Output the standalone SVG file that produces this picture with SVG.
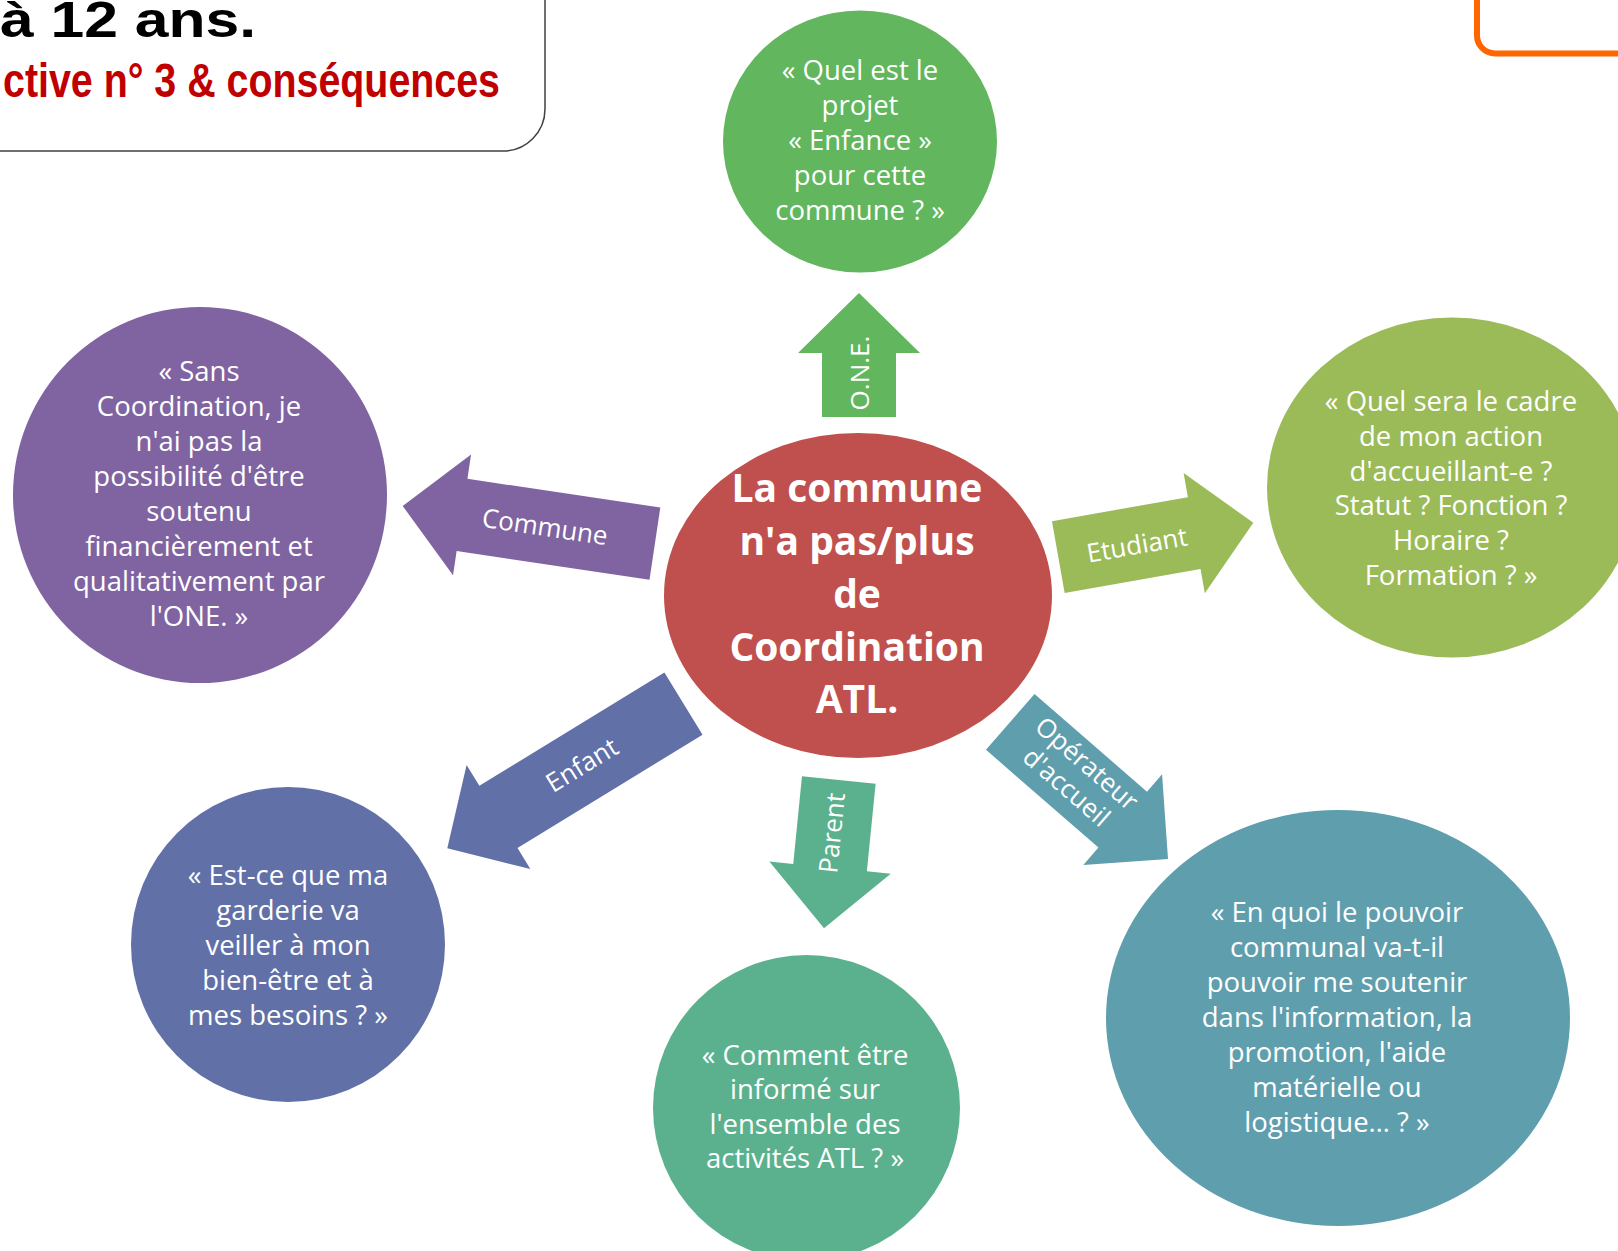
<svg xmlns="http://www.w3.org/2000/svg" width="1618" height="1251" viewBox="0 0 1618 1251">
<style>
.bt{font-family:"Open Sans","Liberation Sans",sans-serif;font-size:27.5px;fill:#ffffff;text-anchor:middle}
.al{font-family:"Open Sans","Liberation Sans",sans-serif;font-size:26px;fill:#ffffff;text-anchor:middle}
.ct{font-family:"Open Sans","Liberation Sans",sans-serif;font-size:39px;font-weight:bold;fill:#ffffff;text-anchor:middle}
</style>
<rect width="1618" height="1251" fill="#ffffff"/>
<g id="header">
<path d="M -3 -3 H 545 V 109 A 42 42 0 0 1 503 151 H -3" fill="#ffffff" stroke="#404040" stroke-width="1.5"/>
<text x="0" y="37" font-family="'Liberation Sans',Arial,sans-serif" font-weight="bold" font-size="50" fill="#000000" textLength="256" lengthAdjust="spacingAndGlyphs">à 12 ans.</text>
<text x="3" y="97" font-family="'Liberation Sans',Arial,sans-serif" font-weight="bold" font-size="48" fill="#c00000" textLength="497" lengthAdjust="spacingAndGlyphs">ctive n° 3 &amp; conséquences</text>
</g>
<g id="orange-box">
<rect x="1477" y="-40" width="200" height="93.5" rx="18" fill="none" stroke="#ff6600" stroke-width="6"/>
</g>
<g id="connectors">
<polygon points="0,0 -60,-61 -60,-37 -124,-37 -124,37 -60,37 -60,61" transform="translate(859,293) rotate(-90)" fill="#61b65e"/>
<text class="al" transform="translate(860,373) rotate(-90)" x="0" y="9">O.N.E.</text>
<polygon points="0,0 -60,-61 -60,-36.5 -255,-36.5 -255,36.5 -60,36.5 -60,61" transform="translate(402.7,506) rotate(188.5)" fill="#8064a2"/>
<text class="al" transform="translate(545,527) rotate(8.5)" x="0" y="9">Commune</text>
<polygon points="0,0 -60,-61 -60,-36.5 -198,-36.5 -198,36.5 -60,36.5 -60,61" transform="translate(1253.3,522.7) rotate(-10)" fill="#9bbb59"/>
<text class="al" transform="translate(1137,545) rotate(-10)" x="0" y="9">Etudiant</text>
<polygon points="0,0 -60,-61 -60,-36.5 -277,-36.5 -277,36.5 -60,36.5 -60,61" transform="translate(447.3,848.3) rotate(148.5)" fill="#6270a8"/>
<text class="al" transform="translate(582,765) rotate(-31.5)" x="0" y="9">Enfant</text>
<polygon points="0,0 -61,-61 -61,-37 -149,-37 -149,37 -61,37 -61,61" transform="translate(824,928.3) rotate(95.7)" fill="#5bb18d"/>
<text class="al" transform="translate(832,833) rotate(-84.3)" x="0" y="9">Parent</text>
<polygon points="0,0 -60,-60 -60,-37 -209,-37 -209,37 -60,37 -60,60" transform="translate(1168,859) rotate(41)" fill="#5f9ead"/>
<g transform="translate(1077,775) rotate(41)">
<text class="al" x="0" y="-6">Opérateur</text>
<text class="al" x="0" y="25">d'accueil</text>
</g>
</g>
<g id="center">
<ellipse cx="858" cy="595.5" rx="194" ry="162.5" fill="#c0504d"/>
<text class="ct" x="857" y="502">La commune</text>
<text class="ct" x="857" y="555">n'a pas/plus</text>
<text class="ct" x="857" y="608">de</text>
<text class="ct" x="857" y="661">Coordination</text>
<text class="ct" x="857" y="713">ATL.</text>
</g>
<g id="node-one">
<ellipse cx="860" cy="141.5" rx="137" ry="131" fill="#61b65e"/>
<text class="bt" x="860" y="80">« Quel est le</text>
<text class="bt" x="860" y="115">projet</text>
<text class="bt" x="860" y="150">« Enfance »</text>
<text class="bt" x="860" y="185">pour cette</text>
<text class="bt" x="860" y="220">commune ? »</text>
</g>
<g id="node-commune">
<ellipse cx="200" cy="495" rx="187" ry="188" fill="#8064a2"/>
<text class="bt" x="199" y="381">« Sans</text>
<text class="bt" x="199" y="416">Coordination, je</text>
<text class="bt" x="199" y="451">n'ai pas la</text>
<text class="bt" x="199" y="486">possibilité d'être</text>
<text class="bt" x="199" y="521">soutenu</text>
<text class="bt" x="199" y="556">financièrement et</text>
<text class="bt" x="199" y="591">qualitativement par</text>
<text class="bt" x="199" y="626">l'ONE. »</text>
</g>
<g id="node-etudiant">
<ellipse cx="1452" cy="487.5" rx="185" ry="170" fill="#9bbb59"/>
<text class="bt" x="1451" y="411">« Quel sera le cadre</text>
<text class="bt" x="1451" y="446">de mon action</text>
<text class="bt" x="1451" y="481">d'accueillant-e ?</text>
<text class="bt" x="1451" y="515">Statut ? Fonction ?</text>
<text class="bt" x="1451" y="550">Horaire ?</text>
<text class="bt" x="1451" y="585">Formation ? »</text>
</g>
<g id="node-enfant">
<ellipse cx="288" cy="944.5" rx="157" ry="157.5" fill="#6270a8"/>
<text class="bt" x="288" y="885">« Est-ce que ma</text>
<text class="bt" x="288" y="920">garderie va</text>
<text class="bt" x="288" y="955">veiller à mon</text>
<text class="bt" x="288" y="990">bien-être et à</text>
<text class="bt" x="288" y="1025">mes besoins ? »</text>
</g>
<g id="node-parent">
<ellipse cx="806.5" cy="1108" rx="153.5" ry="153" fill="#5bb18d"/>
<text class="bt" x="805" y="1065">« Comment être</text>
<text class="bt" x="805" y="1099">informé sur</text>
<text class="bt" x="805" y="1134">l'ensemble des</text>
<text class="bt" x="805" y="1168">activités ATL ? »</text>
</g>
<g id="node-operateur">
<ellipse cx="1338" cy="1018" rx="232" ry="208" fill="#5f9ead"/>
<text class="bt" x="1337" y="922">« En quoi le pouvoir</text>
<text class="bt" x="1337" y="957">communal va-t-il</text>
<text class="bt" x="1337" y="992">pouvoir me soutenir</text>
<text class="bt" x="1337" y="1027">dans l'information, la</text>
<text class="bt" x="1337" y="1062">promotion, l'aide</text>
<text class="bt" x="1337" y="1097">matérielle ou</text>
<text class="bt" x="1337" y="1132">logistique… ? »</text>
</g>
</svg>
